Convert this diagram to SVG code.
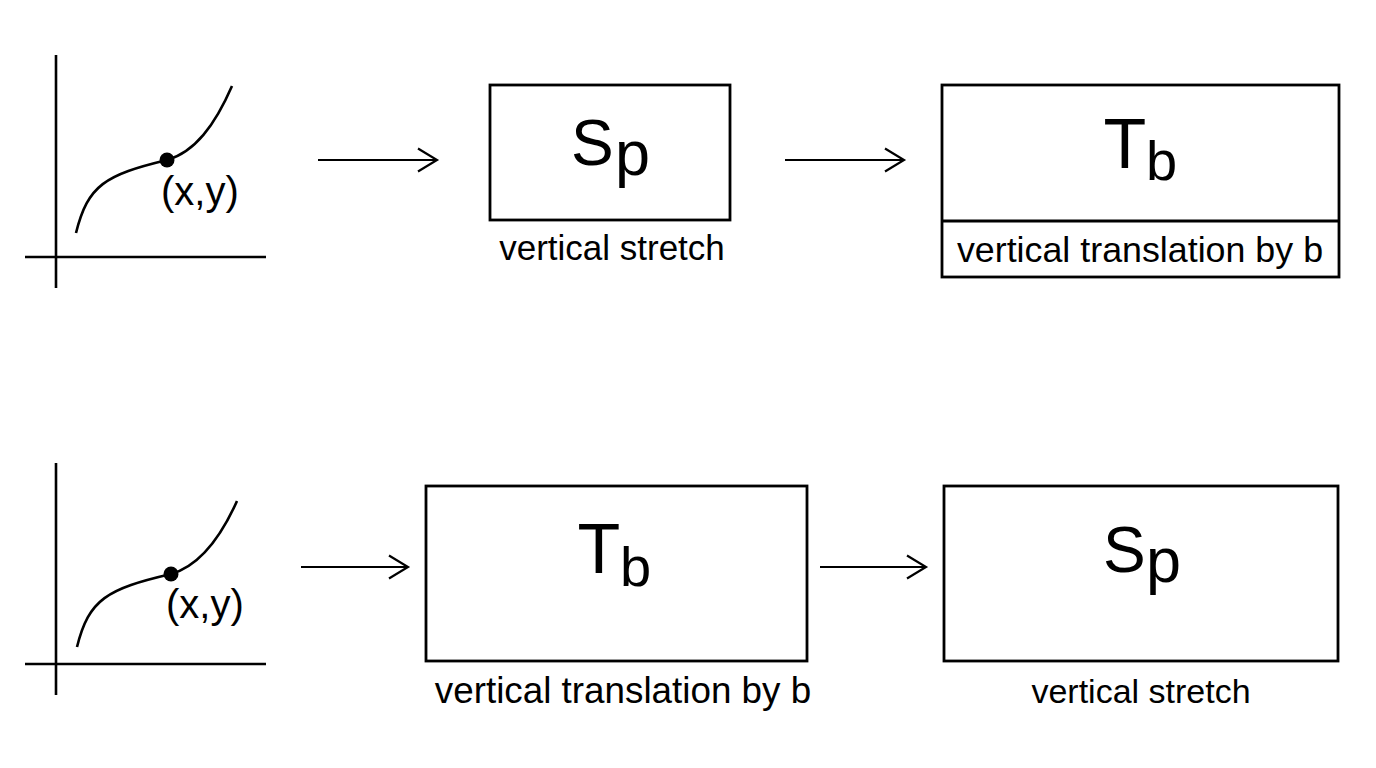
<svg xmlns="http://www.w3.org/2000/svg" width="1376" height="768" viewBox="0 0 1376 768">
<style>
  .ax { stroke:#000; stroke-width:2.6; fill:none; }
  .crv { stroke:#000; stroke-width:2.6; fill:none; }
  .box { stroke:#000; stroke-width:2.8; fill:#fff; }
  .conn { stroke:#000; stroke-width:2.2; fill:none; marker-end:url(#arr); }
  .big { font-family:"Liberation Sans", Arial, sans-serif; fill:#000; }
  .lbl { font-family:"Liberation Sans", Arial, sans-serif; font-size:35px; fill:#000; text-anchor:middle; }
  .pt { font-family:"Liberation Sans", Arial, sans-serif; font-size:40px; fill:#000; }
</style>
<defs>
  <marker id="arr" markerUnits="userSpaceOnUse" markerWidth="24" markerHeight="26" refX="20" refY="12" orient="auto" viewBox="0 0 24 24">
    <path d="M1,0.5 L20,12 L1,23.5" fill="none" stroke="#000" stroke-width="2.2"/>
  </marker>
</defs>
<rect width="1376" height="768" fill="#fff"/>

<g id="graph-top">
  <line class="ax" x1="56" y1="55" x2="56" y2="288"/>
  <line class="ax" x1="25" y1="257" x2="266" y2="257"/>
  <path class="crv" d="M76,233 C88,185 105,175 167,160 C195,152 215,125 232,86"/>
  <circle cx="167" cy="160" r="7.5" fill="#000"/>
  <text class="pt" x="161" y="205">(x,y)</text>
</g>

<g id="box-sp-top">
  <rect class="box" x="490" y="85" width="240" height="135"/>
  <text class="big" font-size="64" x="571" y="165">S</text>
  <text class="big" font-size="63" x="615" y="175">p</text>
  <text class="lbl" x="612" y="260">vertical stretch</text>
</g>

<g id="box-tb-top">
  <rect class="box" x="942" y="85" width="397" height="192"/>
  <line stroke="#000" stroke-width="2.8" x1="942" y1="221" x2="1339" y2="221"/>
  <text class="big" font-size="70" x="1103.5" y="168">T</text>
  <text class="big" font-size="56" x="1146" y="179.5">b</text>
  <text class="lbl" x="1140" y="262" style="font-size:35.8px">vertical translation by b</text>
</g>

<g id="graph-bottom">
  <line class="ax" x1="56" y1="463" x2="56" y2="695"/>
  <line class="ax" x1="25" y1="664" x2="266" y2="664"/>
  <path class="crv" d="M77,647 C89,599 107,589 171,574 C199,566 220,539 237,501"/>
  <circle cx="171" cy="574" r="7.5" fill="#000"/>
  <text class="pt" x="166" y="618">(x,y)</text>
</g>

<g id="box-tb-bottom">
  <rect class="box" x="426" y="486" width="381" height="175"/>
  <text class="big" font-size="70" x="577.5" y="573">T</text>
  <text class="big" font-size="56" x="620" y="586">b</text>
  <text class="lbl" x="623" y="703" style="font-size:36.8px">vertical translation by b</text>
</g>

<g id="box-sp-bottom">
  <rect class="box" x="944" y="486" width="394" height="175"/>
  <text class="big" font-size="64" x="1103" y="572">S</text>
  <text class="big" font-size="63" x="1146" y="582">p</text>
  <text class="lbl" x="1141" y="703" style="font-size:34px">vertical stretch</text>
</g>

<g id="connectors">
  <line class="conn" x1="318" y1="160" x2="437" y2="160"/>
  <line class="conn" x1="785" y1="160" x2="904" y2="160"/>
  <line class="conn" x1="301" y1="567" x2="408" y2="567"/>
  <line class="conn" x1="820" y1="567" x2="926" y2="567"/>
</g>
</svg>
